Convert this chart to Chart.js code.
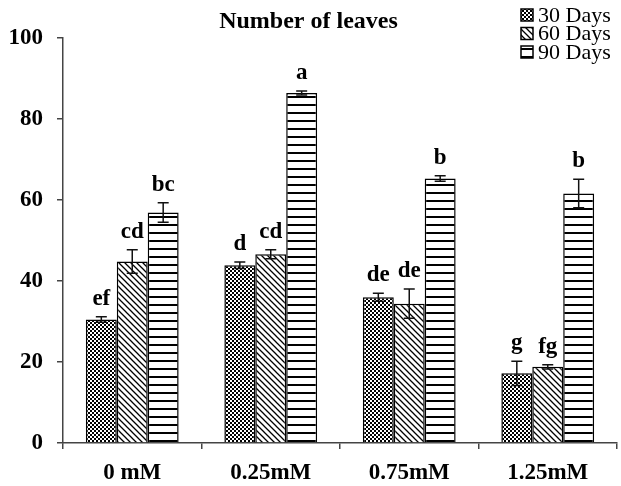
<!DOCTYPE html>
<html>
<head>
<meta charset="utf-8">
<script src="https://cdn.jsdelivr.net/npm/chart.js@4.4.0/dist/chart.umd.min.js"></script>
<style>
  html, body { margin: 0; padding: 0; background: #fff; }
  #wrap { width: 621px; height: 486px; }
</style>
</head>
<body>
<div id="wrap"><canvas id="myChart" width="621" height="486"></canvas></div>
<script>
// data
const categories = ["0 mM", "0.25mM", "0.75mM", "1.25mM"];
const seriesNames = ["30 Days", "60 Days", "90 Days"];
const days30 = [30.5, 43.9, 36.0, 17.2];
const days60 = [44.8, 46.6, 34.4, 18.8];
const days90 = [56.9, 86.4, 65.3, 61.6];
const err30 = [0.7, 0.8, 1.0, 3.0];
const err60 = [2.9, 1.1, 3.6, 0.5];
const err90 = [2.4, 0.5, 0.7, 3.5];
const letters30 = ["ef", "d", "de", "g"];
const letters60 = ["cd", "cd", "de", "fg"];
const letters90 = ["bc", "a", "b", "b"];
const yTicks = [0, 20, 40, 60, 80, 100];

const serif = "'Liberation Serif', 'Times New Roman', serif";

// patterns for the bars
function makePattern(kind) {
  const c = document.createElement("canvas");
  const g = c.getContext("2d");
  if (kind == "checker") {
    c.width = 4; c.height = 4;
    g.fillStyle = "#fff"; g.fillRect(0, 0, 4, 4);
    g.fillStyle = "#000";
    g.fillRect(0, 0, 2, 2);
    g.fillRect(2, 2, 2, 2);
  } else if (kind == "diag") {
    c.width = 6; c.height = 6;
    g.fillStyle = "#fff"; g.fillRect(0, 0, 6, 6);
    g.strokeStyle = "#000"; g.lineWidth = 1.3;
    g.beginPath();
    g.moveTo(-1, -1); g.lineTo(7, 7);
    g.moveTo(-4, 2); g.lineTo(4, 10);
    g.moveTo(2, -4); g.lineTo(10, 4);
    g.stroke();
  } else {
    c.width = 8; c.height = 8;
    g.fillStyle = "#fff"; g.fillRect(0, 0, 8, 8);
    g.fillStyle = "#000"; g.fillRect(0, 0, 8, 2);
  }
  return g.createPattern(c, "repeat");
}

const patterns = [makePattern("checker"), makePattern("diag"), makePattern("hlines")];
const errors = [err30, err60, err90];
const letters = [letters30, letters60, letters90];

// error bars + letters above them
const errorBarPlugin = {
  id: "errorBars",
  afterDatasetsDraw(chart) {
    const ctx = chart.ctx;
    const y = chart.scales.y;
    ctx.save();
    chart.data.datasets.forEach((ds, di) => {
      const meta = chart.getDatasetMeta(di);
      meta.data.forEach((bar, i) => {
        const v = ds.data[i];
        const e = errors[di][i];
        const yTop = y.getPixelForValue(v + e);
        const yBot = y.getPixelForValue(v - e);
        ctx.strokeStyle = "#111";
        ctx.lineWidth = 1.5;
        ctx.beginPath();
        ctx.moveTo(bar.x, yTop); ctx.lineTo(bar.x, yBot);
        ctx.moveTo(bar.x - 5.5, yTop); ctx.lineTo(bar.x + 5.5, yTop);
        ctx.moveTo(bar.x - 5.5, yBot); ctx.lineTo(bar.x + 5.5, yBot);
        ctx.stroke();
        ctx.fillStyle = "#000";
        ctx.font = "bold 23px " + serif;
        ctx.textAlign = "center";
        ctx.textBaseline = "alphabetic";
        ctx.fillText(letters[di][i], bar.x, yTop - 12);
      });
    });
    ctx.restore();
  }
};

// legend in the top right corner
const legendPlugin = {
  id: "cornerLegend",
  afterDraw(chart) {
    const ctx = chart.ctx;
    ctx.save();
    chart.data.datasets.forEach((ds, di) => {
      const cy = 15 + di * 18.5;
      ctx.fillStyle = patterns[di];
      ctx.fillRect(521, cy - 6, 12, 12);
      ctx.strokeStyle = "#000";
      ctx.lineWidth = 1.5;
      ctx.strokeRect(521, cy - 6, 12, 12);
      ctx.fillStyle = "#000";
      ctx.font = "22px " + serif;
      ctx.textAlign = "left";
      ctx.textBaseline = "middle";
      ctx.fillText(ds.label, 538, cy + 1);
    });
    ctx.restore();
  }
};

const ctx = document.getElementById("myChart").getContext("2d");
const myChart = new Chart(ctx, {
  type: "bar",
  data: {
    labels: categories,
    datasets: [
      { label: seriesNames[0], data: days30, backgroundColor: patterns[0] },
      { label: seriesNames[1], data: days60, backgroundColor: patterns[1] },
      { label: seriesNames[2], data: days90, backgroundColor: patterns[2] },
    ].map((d) => Object.assign(d, {
      borderColor: "#000",
      borderWidth: 1.5,
      categoryPercentage: 0.67,
      barPercentage: 1.0,
    })),
  },
  options: {
    responsive: false,
    animation: false,
    layout: { padding: { left: 0, right: 4, top: 0, bottom: 0 } },
    plugins: {
      legend: { display: false },
      tooltip: { enabled: false },
      title: {
        display: true,
        text: "Number of leaves",
        color: "#000",
        font: { family: serif, size: 24, weight: "bold", lineHeight: 1.2 },
        padding: { top: 7, bottom: 2.2 },
      },
    },
    scales: {
      x: {
        grid: { drawOnChartArea: false, offset: true, tickLength: 6, color: "#444", lineWidth: 1.5 },
        border: { color: "#444", width: 1.5 },
        ticks: {
          color: "#000",
          padding: 10,
          maxRotation: 0,
          font: { family: serif, size: 23, weight: "bold" },
        },
        afterFit(scale) { scale.height = 43; },
      },
      y: {
        min: 0,
        max: 100,
        afterBuildTicks(scale) { scale.ticks = yTicks.map((v) => ({ value: v })); },
        grid: { drawOnChartArea: false, tickLength: 6, color: "#444", lineWidth: 1.5 },
        border: { color: "#444", width: 1.5 },
        ticks: {
          color: "#000",
          padding: 14,
          font: { family: serif, size: 23, weight: "bold" },
        },
        afterFit(scale) { scale.width = 63; },
      },
    },
  },
  plugins: [errorBarPlugin, legendPlugin],
});
</script>
</body>
</html>
